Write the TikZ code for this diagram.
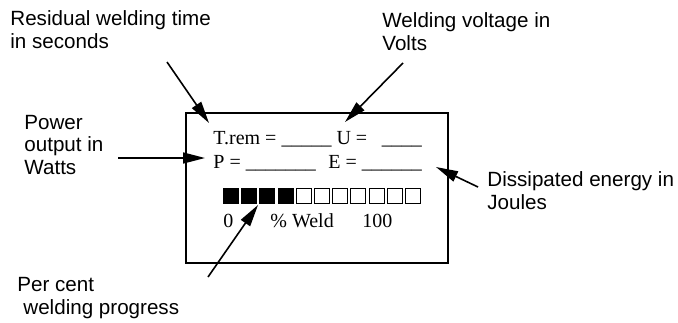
\documentclass[tikz,border=0pt]{standalone}
\usepackage{fontspec}
\setmainfont{Liberation Serif}
\newfontfamily\labelfont{Liberation Sans}
\usetikzlibrary{arrows.meta}

\begin{document}
\begin{tikzpicture}[x=0.5pt, y=-0.5pt,
  lbl/.style={font=\labelfont\fontsize{10.3}{11.25}\selectfont, align=left, anchor=base west, inner sep=0pt},
  disp/.style={font=\fontsize{10}{12}\selectfont, anchor=base west, inner sep=0pt},
  pointer/.style={-{Triangle[length=11pt, width=5.5pt]}, line width=0.8pt},
  cell/.style={draw, line width=0.5pt, minimum size=7.5pt, inner sep=0pt, anchor=north west}]
  \useasboundingbox (0,0) rectangle (678,322);

  % the display
  \node[draw, line width=1pt, minimum width=131pt, minimum height=75pt, inner sep=0pt, anchor=north west] (screen) at (185,112) {};
  \node[disp] (line1) at (213,144) {T.rem = \_\_\_\_\_ U =\hspace{7.3pt}\_\_\_\_};
  \node[disp] (line2) at (213,168) {P = \_\_\_\_\_\_\_\hspace{6.3pt}E = \_\_\_\_\_\_};
  \foreach \i in {0,...,3}
    \node[cell, fill=black] (sq\i) at ({223+18.2*\i},188) {};
  \foreach \i in {4,...,10}
    \node[cell] (sq\i) at ({223+18.2*\i},188) {};
  \node[disp] (zero) at (223,227) {0};
  \node[disp] (weld) at (270,227) {\% Weld};
  \node[disp] (hundred) at (362,227) {100};

  % the labels (placed by the baseline of their last line)
  \node[lbl] (resid) at (10,48) {Residual welding time\\in seconds};
  \node[lbl] (volt) at (382,50) {Welding voltage in\\Volts};
  \node[lbl] (power) at (24,174) {Power\\output in\\Watts};
  \node[lbl] (energy) at (487,209) {Dissipated energy in\\Joules};
  \node[lbl] (prog) at (17,314) {Per cent\\\hspace*{3pt}welding progress};

  % arrow ends
  \coordinate (resid-tail) at (167,62);
  \coordinate (resid-tip) at (209,123);
  \coordinate (volt-tail) at (403,63);
  \coordinate (volt-tip) at (345,122);
  \coordinate (power-tail) at (118,158);
  \coordinate (power-tip) at (205,158);
  \coordinate (energy-tail) at (478,187);
  \coordinate (energy-tip) at (436,167);
  \coordinate (prog-tail) at (208,277);
  \coordinate (prog-tip) at (258,205);

  \draw[pointer] (resid-tail) -- (resid-tip);
  \draw[pointer] (volt-tail) -- (volt-tip);
  \draw[pointer] (power-tail) -- (power-tip);
  \draw[pointer] (energy-tail) -- (energy-tip);
  \draw[pointer] (prog-tail) -- (prog-tip);
\end{tikzpicture}
\end{document}
